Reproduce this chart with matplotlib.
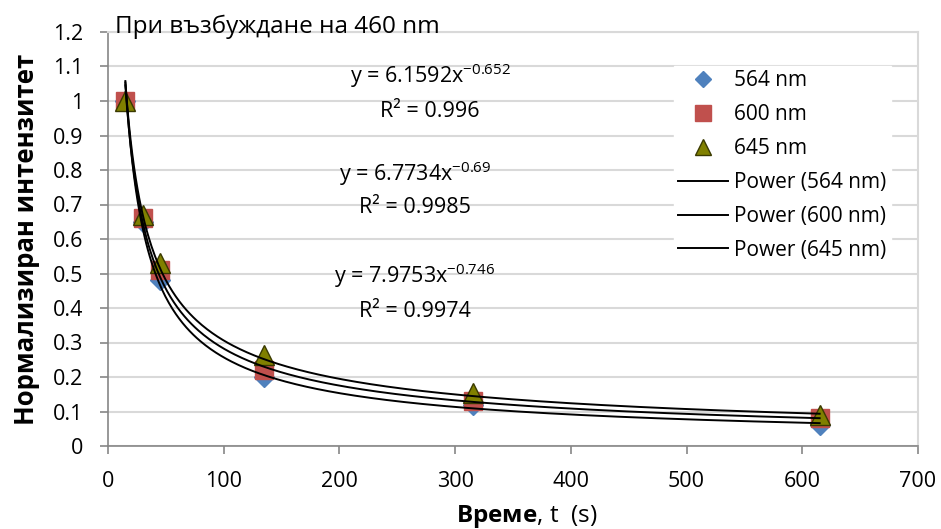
import numpy as np
import matplotlib
matplotlib.use("Agg")
import matplotlib.pyplot as plt

# ── Data ───────────────────────────────────────────────────────────────────────
time_s = [15, 30, 45, 135, 315, 615]
int_564 = [1.0, 0.65, 0.48, 0.20, 0.12, 0.06]
int_600 = [1.0, 0.66, 0.51, 0.22, 0.13, 0.08]
int_645 = [1.0, 0.67, 0.53, 0.265, 0.155, 0.09]

# power-law trendlines y = a * x^b
fit_a = [6.1592, 6.7734, 7.9753]
fit_b = [-0.652, -0.69, -0.746]
fit_r2 = ["0.996", "0.9985", "0.9974"]
fit_labels = ["Power (564 nm)", "Power (600 nm)", "Power (645 nm)"]

plt.rcParams["font.family"] = ["Open Sans", "DejaVu Sans"]
plt.rcParams["mathtext.fontset"] = "custom"
plt.rcParams["mathtext.rm"] = "Open Sans"
plt.rcParams["mathtext.it"] = "Open Sans:italic"
plt.rcParams["mathtext.bf"] = "Open Sans:bold"

W, H = 941, 529
fig = plt.figure(figsize=(W / 100, H / 100), dpi=100)
L, R, T, B = 108, 918, 32, 446
ax = fig.add_axes([L / W, 1 - B / H, (R - L) / W, (B - T) / H])

grid_c = "#D9D9D9"
axis_c = "#868686"

ax.set_xlim(0, 700)
ax.set_ylim(0, 1.2)
ax.set_xticks(np.arange(0, 701, 100))
yt = np.round(np.arange(0, 1.21, 0.1), 1)
ax.set_yticks(yt)
ax.set_yticklabels([f"{v:g}" for v in yt])
ax.yaxis.grid(True, color=grid_c, lw=1.5)
ax.set_axisbelow(True)
for s in ["top", "right"]:
    ax.spines[s].set_color(grid_c)
    ax.spines[s].set_linewidth(1.5)
for s in ["left", "bottom"]:
    ax.spines[s].set_color(axis_c)
    ax.spines[s].set_linewidth(1.2)
ax.tick_params(axis="both", direction="out", length=6, width=1.2, color=axis_c,
               labelsize=15.5, labelcolor="black")
ax.tick_params(axis="x", pad=12)
ax.tick_params(axis="y", pad=12)

# markers
ax.plot(time_s, int_564, ls="none", marker="D", ms=10, color="#4F81BD",
        mec="#4F81BD", label="564 nm", zorder=3)
ax.plot(time_s, int_600, ls="none", marker="s", ms=13, color="#C0504D",
        mec="#C0504D", label="600 nm", zorder=4)
ax.plot(time_s, int_645, ls="none", marker="^", ms=14, color="#808000",
        mec="#3A3A00", mew=1.0, label="645 nm", zorder=5)

# trendlines
xs = np.linspace(min(time_s), max(time_s), 400)
for a, b, lab in zip(fit_a, fit_b, fit_labels):
    ax.plot(xs, a * xs ** b, color="black", lw=1.4, label=lab, zorder=6)

# equations (pixel centre, baseline of equation, baseline of R²)
eq_pos = [(430, 83, 117), (415, 181, 213), (415, 283, 317)]

def to_data(px, py):
    return (px - L) * 700 / (R - L), (B - py) * 1.2 / (B - T)

for (cx, y1, y2), a, b, r2 in zip(eq_pos, fit_a, fit_b, fit_r2):
    x1, yy1 = to_data(cx, y1)
    _, yy2 = to_data(cx, y2)
    ax.text(x1, yy1, f"y = {a}x$^{{{b}}}$", ha="center", va="baseline",
            fontsize=15.5, zorder=7)
    ax.text(x1, yy2, f"R² = {r2}", ha="center", va="baseline",
            fontsize=15.5, zorder=7)

leg = ax.legend(loc="upper left", bbox_to_anchor=((674 - L) / (R - L), (B - 66) / (B - T)),
                frameon=True, fontsize=15, handlelength=2.4, handletextpad=0.3,
                labelspacing=0.62, borderpad=0.2, borderaxespad=0, markerscale=0.85)
leg.get_frame().set_edgecolor("white")
leg.get_frame().set_facecolor("white")
leg.get_frame().set_alpha(1)
leg.get_frame().set_boxstyle("square", pad=0)

fig.text(115 / W, 1 - 33 / H, "При възбуждане на 460 nm", fontsize=17.5,
         ha="left", va="baseline")

ax.set_ylabel("Нормализиран интензитет", fontsize=18.5, fontweight="bold", labelpad=9)
ax.set_xlabel(r"$\mathbf{Време}$, t  (s)", fontsize=17.5)
ax.xaxis.set_label_coords((527 - L) / (R - L), -(503 - B) / (B - T))
ax.xaxis.label.set_va("top")

fig.savefig("out.png", dpi=100)
